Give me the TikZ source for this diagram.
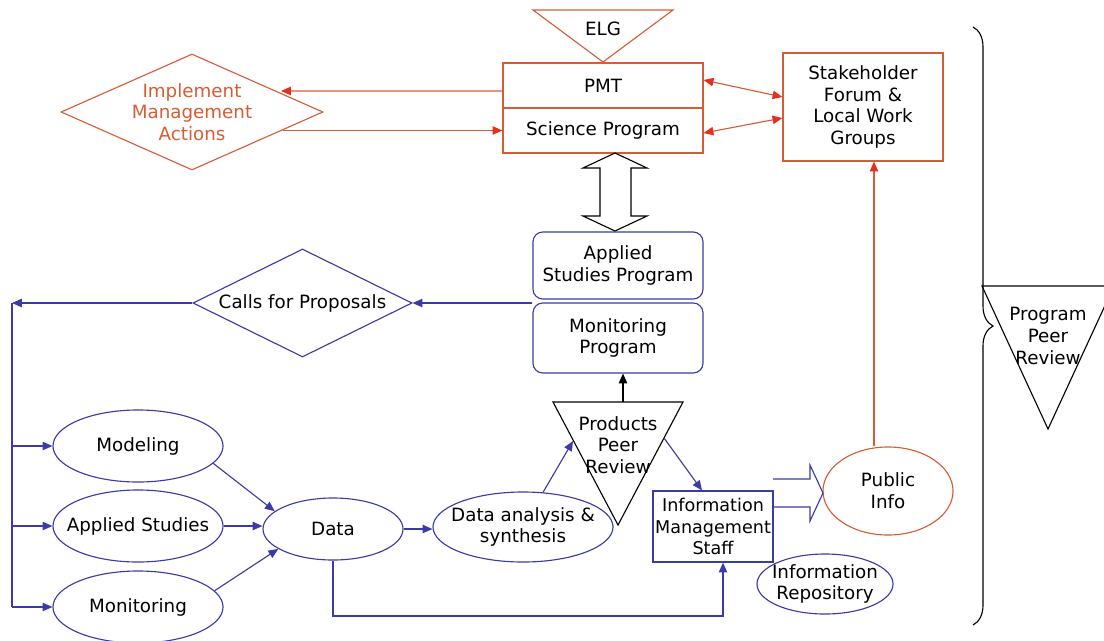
\documentclass[tikz,border=0pt]{standalone}
\usepackage{fontspec}
\setmainfont{DejaVu Sans}
\usetikzlibrary{shapes.geometric, arrows.meta, decorations.pathreplacing}
\definecolor{mgmtred}{RGB}{214, 92, 52}
\definecolor{tipred}{RGB}{228, 48, 28}
\definecolor{flowblue}{RGB}{58, 58, 168}

\tikzset{
  redbox/.style={draw=mgmtred, line width=0.8pt, rectangle, inner sep=2pt, align=center},
  bluebox/.style={draw=flowblue, line width=0.8pt, rectangle, inner sep=2pt, align=center},
  redoval/.style={draw=mgmtred, line width=0.8pt, ellipse, inner sep=0pt},
  blueoval/.style={draw=flowblue, line width=0.8pt, ellipse, inner sep=0pt},
  reddiamond/.style={draw=mgmtred, line width=0.8pt, diamond, inner sep=0pt},
  bluediamond/.style={draw=flowblue, line width=0.8pt, diamond, inner sep=0pt},
  redarrow/.style={draw=mgmtred, line width=0.8pt, -{Triangle[length=7pt, width=6pt, color=tipred]}},
  redboth/.style={draw=mgmtred, line width=0.8pt, {Triangle[length=7pt, width=6pt, color=tipred]}-{Triangle[length=7pt, width=6pt, color=tipred]}},
  bluearrow/.style={draw=flowblue, line width=0.8pt, -{Triangle[length=7pt, width=6pt]}},
  blueline/.style={draw=flowblue, line width=0.8pt},
  blackarrow/.style={draw=black, line width=0.8pt, -{Triangle[length=7pt, width=6pt]}}
}

\begin{document}
\begin{tikzpicture}[x=0.025cm, y=-0.025cm, font=\fontsize{13}{15.5}\selectfont]
  \clip (0,0) rectangle (1104,640);

  % top: ELG, PMT / Science Program
  \draw[draw=mgmtred, line width=0.8pt] (533,10) -- (673,10) -- (603,62) -- cycle;
  \node (elg) at (603,29) {ELG};
  \node[redbox, minimum width=5cm, minimum height=1.125cm] (pmt) at (603,85.5) {PMT};
  \node[redbox, minimum width=5cm, minimum height=1.125cm] (sci) at (603,130.5) {Science Program};
  \node[redbox, minimum width=4cm, minimum height=2.7cm] (stk) at (863,107) {Stakeholder\\Forum \&\\Local Work\\Groups};
  \node[reddiamond, minimum width=6.55cm, minimum height=2.9cm,
        label={[text=mgmtred, align=center]center:Implement\\Management\\Actions}] (imp) at (192,112) {};
  \coordinate (imp-in) at (281,91);
  \coordinate (imp-out) at (283,130.5);

  \draw[redarrow] ([yshift=-0.1375cm]pmt.west) -- (imp-in);
  \draw[redarrow] (imp-out) -- (sci.west);
  \draw[redboth] ([yshift=0.1375cm]pmt.east) -- ([yshift=0.25cm]stk.west);
  \draw[redboth] ([yshift=-0.0625cm]sci.east) -- ([yshift=-0.275cm]stk.west);

  % hollow double arrow
  \draw[line width=0.8pt] (615,153) -- (647,168) -- (631,168) -- (631,216) -- (647,216) -- (615,231)
    -- (583,216) -- (600,216) -- (600,168) -- (583,168) -- cycle;

  % programs
  \node[bluebox, rounded corners=7pt, minimum width=4.25cm, minimum height=1.675cm] (asp) at (618,265.5) {Applied\\Studies Program};
  \node[bluebox, rounded corners=7pt, minimum width=4.25cm, minimum height=1.75cm] (mon) at (618,338) {Monitoring\\Program};
  \node[bluediamond, minimum width=5.475cm, minimum height=2.7cm, label=center:Calls for Proposals] (cfp) at (302.5,303) {};
  \coordinate (trunk) at (12,303);

  % studies
  \node[blueoval, minimum width=4.25cm, minimum height=1.8cm, label=center:Modeling] (model) at (138,446) {};
  \node[blueoval, minimum width=4.25cm, minimum height=1.8cm, label=center:Applied Studies] (appl) at (138,526) {};
  \node[blueoval, minimum width=4.25cm, minimum height=1.8cm, label=center:Monitoring] (moni) at (138,607) {};
  \node[blueoval, minimum width=3.5cm, minimum height=1.55cm, label=center:Data] (data) at (333,529) {};
  \node[blueoval, minimum width=4.5cm, minimum height=1.75cm,
        label={[align=center]center:Data analysis \&\\synthesis}] (dan) at (523,527) {};

  % products peer review
  \draw[line width=0.8pt] (553,402) -- (683,402) -- (618,525) -- cycle;
  \node[align=center] (ppr) at (618,445) {Products\\Peer\\Review};
  \coordinate (ppr-top) at (623,402);
  \coordinate (ppr-l) at (573,441);
  \coordinate (ppr-r) at (664,438);

  % information
  \node[bluebox, inner sep=0pt, font=\fontsize{12.5}{15.5}\selectfont, minimum width=3cm, minimum height=1.775cm] (ims) at (713,526.5) {Information\\Management\\Staff};
  \node[blueoval, minimum width=3.4cm, minimum height=1.5cm,
        label={[align=center]center:Information\\Repository}] (repo) at (825,584) {};
  \node[redoval, minimum width=3.25cm, minimum height=2.2cm,
        label={[align=center]center:Public\\Info}] (pub) at (888,491) {};
  \draw[draw=flowblue, line width=0.8pt] (773,479) -- (810,479) -- (810,465) -- (823,493) -- (810,521) -- (810,507) -- (773,507);
  \coordinate (ret) at (723,616);

  % program peer review
  \draw[line width=0.8pt] (982,286) -- (1114,286) -- (1048,429) -- cycle;
  \node[align=center] (prog) at (1048,336) {Program\\Peer\\Review};
  \draw[decorate, decoration={brace, amplitude=0.5cm}, line width=0.8pt] (973,27) -- (973,625);

  % connectors
  \draw[bluearrow] (asp.south west |- cfp.east) -- (cfp.east);
  \draw[bluearrow] (cfp.west) -- (trunk);
  \draw[blueline] (trunk) -- (trunk |- moni.west);
  \foreach \n in {model, appl, moni}
    \draw[bluearrow] (trunk |- \n.west) -- (\n.west);
  \draw[bluearrow] (model.-13) -- (data.163);
  \draw[bluearrow] (appl.east) -- (appl.east -| data.west);
  \draw[bluearrow] (moni.12) -- (data.200);
  \draw[bluearrow] (data.east) -- (data.east -| dan.west);
  \draw[bluearrow] (dan.60) -- (ppr-l);
  \draw[bluearrow] (ppr-r) -- ([xshift=-0.275cm]ims.north);
  \draw[bluearrow] (data.south) |- (ret) -- (ret |- ims.south);
  \draw[blackarrow] (ppr-top) -- (ppr-top |- mon.south);
  \draw[redarrow] ([xshift=-0.35cm]pub.north) -- ([xshift=-0.35cm]pub.north |- stk.south);
\end{tikzpicture}
\end{document}
